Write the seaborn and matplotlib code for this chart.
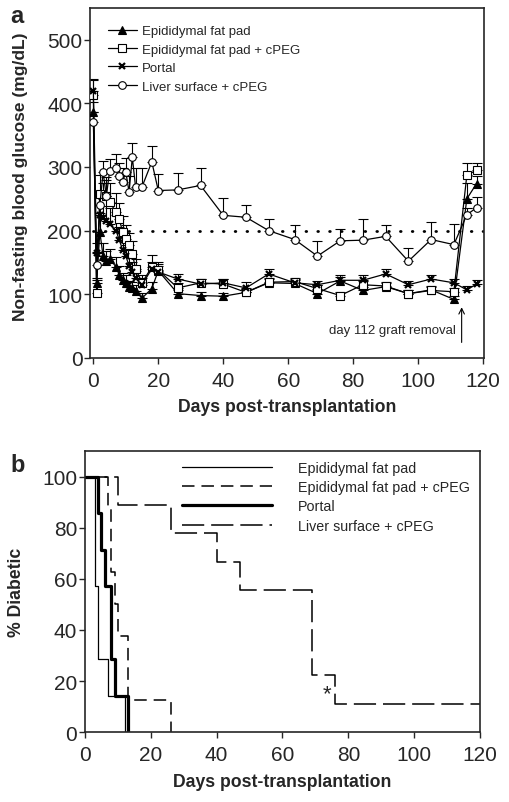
import numpy as np
import pandas as pd
import matplotlib
matplotlib.use("Agg")
import matplotlib.pyplot as plt
import seaborn as sns

# ---- panel a : blood glucose ----
days = [0, 1, 2, 3, 4, 5, 7, 8, 9, 10, 11, 12, 13, 15, 18, 20,
        26, 33, 40, 47, 54, 62, 69, 76, 83, 90, 97, 104, 111, 115, 118]

fat_pad = [387, 117, 198, 160, 153, 156, 143, 130, 122, 118, 111, 110, 105, 94, 109, 137,
           101, 98, 97, 103, 118, 117, 101, 121, 106, 112, 101, 107, 92, 250, 274]
fat_pad_err = [15, 8, 30, 20, 15, 15, 15, 15, 12, 12, 10, 10, 10, 8, 10, 10,
               6, 5, 5, 6, 6, 6, 6, 6, 6, 6, 6, 6, 6, 25, 12]

fat_pad_peg = [413, 102, 257, 245, 255, 245, 229, 218, 198, 187, 177, 164, 140, 118, 143, 138,
               110, 118, 116, 103, 119, 120, 109, 98, 115, 113, 101, 106, 104, 287, 295]
fat_pad_peg_err = [25, 20, 30, 30, 30, 30, 30, 25, 25, 22, 20, 20, 15, 12, 18, 12,
                   8, 6, 8, 6, 6, 6, 6, 6, 6, 6, 6, 6, 6, 20, 12]

portal = [420, 165, 225, 220, 215, 210, 200, 185, 170, 160, 145, 135, 125, 115, 140, 135,
          124, 116, 118, 110, 132, 118, 115, 122, 122, 132, 115, 124, 118, 107, 116]
portal_err = [17, 15, 30, 30, 25, 25, 25, 20, 20, 18, 15, 15, 12, 10, 10, 10,
              8, 8, 6, 10, 8, 6, 6, 8, 8, 8, 6, 6, 6, 6, 6]

liver_peg = [371, 146, 240, 292, 254, 293, 298, 286, 277, 292, 261, 315, 269, 269, 308, 263,
             264, 271, 224, 221, 200, 186, 160, 184, 185, 191, 152, 186, 178, 225, 236]
liver_peg_err = [15, 20, 20, 18, 25, 20, 22, 20, 22, 22, 25, 22, 30, 30, 25, 26,
                 26, 27, 28, 20, 18, 23, 23, 19, 33, 18, 21, 28, 33, 10, 17]

# ---- panel b : % diabetic (Kaplan-Meier) ----
km_fat_t = [0, 3, 4, 7, 12]
km_fat_v = [100, 57.1, 28.6, 14.3, 0]
km_peg_t = [0, 7, 8, 9, 10, 13, 26]
km_peg_v = [100, 87.5, 62.5, 50, 37.5, 12.5, 0]
km_portal_t = [0, 4, 5, 6, 8, 9, 13]
km_portal_v = [100, 85.7, 71.4, 57.1, 28.6, 14.3, 0]
km_liver_t = [0, 10, 26, 40, 47, 69, 76, 120]
km_liver_v = [100, 88.9, 77.8, 66.7, 55.6, 22.2, 11.1, 11.1]

labels = ["Epididymal fat pad", "Epididymal fat pad + cPEG", "Portal", "Liver surface + cPEG"]

sns.set_style("ticks")
plt.rcParams['font.family'] = ['Liberation Sans', 'DejaVu Sans']
plt.rcParams['lines.scale_dashes'] = False

fig = plt.figure(figsize=(5.09, 8.03), dpi=100)
ax1 = fig.add_axes([0.177, 0.553, 0.774, 0.436])
ax2 = fig.add_axes([0.167, 0.087, 0.776, 0.350])

styles = [
    (fat_pad, fat_pad_err, "^", "black"),
    (fat_pad_peg, fat_pad_peg_err, "s", "white"),
    (portal, portal_err, "x", "black"),
    (liver_peg, liver_peg_err, "o", "white"),
]

ax1.plot([0, 120], [200, 200], color="black", lw=2.0, ls=(0, (0.5, 8)), zorder=1,
         dash_capstyle="round")

for (vals, err, mk, fc), lab in zip(styles, labels):
    ax1.errorbar(days, vals, yerr=[np.zeros(len(err)), err], fmt="none",
                 ecolor="black", elinewidth=0.8, capsize=3.5, capthick=0.8, zorder=2)
    df = pd.DataFrame({"day": days, "glucose": vals})
    sns.lineplot(data=df, x="day", y="glucose", ax=ax1, color="black", lw=0.9,
                 marker=mk, markersize=5.5 if mk != "x" else 5,
                 markerfacecolor=fc, markeredgecolor="black",
                 markeredgewidth=0.8 if mk != "x" else 1.6, label=lab, zorder=3)

ax1.set_xlim(-1, 120.3)
ax1.set_ylim(0, 550)
ax1.set_xticks(range(0, 121, 20))
ax1.set_yticks(range(0, 501, 100))
ax1.set_xlabel("Days post-transplantation", fontsize=12.7, fontweight="bold", labelpad=6)
ax1.set_ylabel("Non-fasting blood glucose (mg/dL)", fontsize=12.5, fontweight="bold")
ax1.yaxis.set_label_coords(-0.157, 0.52)
ax1.tick_params(labelsize=15, width=1, length=4, direction="out")
ax1.tick_params(axis="y", pad=1.5)
ax1.tick_params(axis="x", pad=5.5)
for s in ax1.spines.values():
    s.set_linewidth(1.2)
    s.set_visible(True)
ax1.legend(loc="upper left", frameon=False, fontsize=9.5, handlelength=2.2,
           handletextpad=0.4, labelspacing=0.47, borderaxespad=0.5,
           bbox_to_anchor=(0.015, 0.985))

ax1.annotate("", xy=(113.4, 84), xytext=(113.4, 20),
             arrowprops=dict(arrowstyle="->", color="black", lw=0.8))
ax1.text(92, 44, "day 112 graft removal", fontsize=9.5, ha="center", va="center")

# ---- panel b ----
km = [
    (km_fat_t, km_fat_v, 0.9, "-"),
    (km_peg_t, km_peg_v, 1.1, (0, (9, 5))),
    (km_portal_t, km_portal_v, 2.3, "-"),
    (km_liver_t, km_liver_v, 1.1, (0, (16, 5))),
]
for (t, v, lw, ls), lab in zip(km, labels):
    df = pd.DataFrame({"day": t, "pct": v})
    sns.lineplot(data=df, x="day", y="pct", ax=ax2, color="black", lw=lw,
                 linestyle=ls, drawstyle="steps-post", label=lab)

ax2.text(73.5, 15, "*", fontsize=16, ha="center", va="center")
ax2.set_xlim(0, 120)
ax2.set_ylim(0, 110)
ax2.set_xticks(range(0, 121, 20))
ax2.set_yticks(range(0, 101, 20))
ax2.set_xlabel("Days post-transplantation", fontsize=12.7, fontweight="bold", labelpad=6)
ax2.set_ylabel("% Diabetic", fontsize=12.7, fontweight="bold")
ax2.yaxis.set_label_coords(-0.152, 0.5)
ax2.tick_params(labelsize=15, width=1, length=4, direction="out")
ax2.tick_params(axis="y", pad=1.5)
ax2.tick_params(axis="x", pad=5.5)
for s in ax2.spines.values():
    s.set_linewidth(1.2)
    s.set_visible(True)
ax2.legend(loc="upper right", frameon=False, fontsize=10.3, handlelength=6.3,
           handletextpad=1.8, labelspacing=0.36, borderaxespad=0.3,
           bbox_to_anchor=(1.0, 1.0))

fig.text(0.02, 0.979, "a", fontsize=17, fontweight="bold", va="center")
fig.text(0.02, 0.42, "b", fontsize=17, fontweight="bold", va="center")

fig.savefig("out.png", dpi=100)
